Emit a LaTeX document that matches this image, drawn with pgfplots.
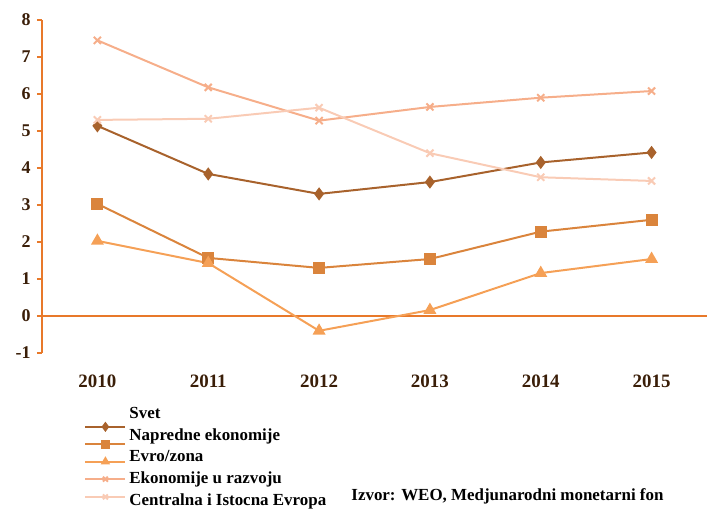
\documentclass[border=0pt]{standalone}
\usepackage{pgfplots}
\pgfplotsset{compat=1.18}
\usepackage{fontspec}
\setmainfont{Liberation Serif}
\definecolor{axc}{HTML}{E8792A}
\definecolor{tlc}{HTML}{3A1E08}
\definecolor{c1}{HTML}{A8622C}
\definecolor{c2}{HTML}{DA843C}
\definecolor{c3}{HTML}{F5A056}
\definecolor{c4}{HTML}{F6AE8A}
\definecolor{c5}{HTML}{F9CBB5}
\pgfplotsset{myimg/.style={legend image code/.code={\path[draw=none, fill=none] (0bp,0bp) rectangle (42bp,1bp);
    \draw[overlay, ##1, mark size=3.5bp, mark repeat=2, mark phase=2] plot coordinates {(0bp,#1)(20bp,#1)(40bp,#1)};}}}
\begin{document}
\begin{tikzpicture}
\useasboundingbox (-42bp,-159bp) rectangle (677bp,353bp);
\begin{axis}[
  at={(0,0)}, anchor=south west,
  scale only axis, width=665bp, height=333bp,
  xmin=-0.5, xmax=5.5, ymin=-1, ymax=8,
  axis y line=left, axis x line=middle,
  axis line style={-, draw=axc, line width=1.4bp},
  /pgf/number format/assume math mode=true,
  xtick={0,1,2,3,4,5},
  xticklabels={2010,2011,2012,2013,2014,2015},
  major x tick style={draw=none},
  xticklabel style={yshift=-50bp, font=\fontsize{19}{21}\selectfont\bfseries, text=tlc},
  extra x ticks={-0.5,0.5,1.5,2.5,3.5,4.5,5.5},
  extra x tick labels={},
  extra x tick style={tick align=outside, major tick length=5bp, tick style={draw=axc, line width=1.2bp}},
  ytick={-1,0,...,8},
  yticklabel style={font=\fontsize{18}{20}\selectfont\bfseries, text=tlc, xshift=-3bp},
  tick align=outside, major tick length=5bp,
  y tick style={draw=axc, line width=1.2bp},
  clip=false,
  legend style={at={(axis description cs:0.065,-0.157)}, anchor=north west, draw=none, fill=none,
    font=\fontsize{17}{19}\selectfont\bfseries, row sep=4.5bp, inner sep=0pt},
  legend cell align=left,
]
\addplot[forget plot, c1, line width=2bp, mark=diamond*, mark size=5bp, mark options={fill=c1}]
  coordinates {(0,5.14)(1,3.84)(2,3.30)(3,3.62)(4,4.15)(5,4.42)};
\addplot[forget plot, c2, line width=2bp, mark=square*, mark size=5bp, mark options={fill=c2}]
  coordinates {(0,3.03)(1,1.57)(2,1.30)(3,1.54)(4,2.28)(5,2.60)};
\addplot[forget plot, c3, line width=2bp, mark=triangle*, mark size=5.5bp, mark options={fill=c3}]
  coordinates {(0,2.03)(1,1.43)(2,-0.40)(3,0.16)(4,1.16)(5,1.54)};
\addplot[forget plot, c4, line width=2bp, mark=x, mark size=5bp]
  coordinates {(0,7.45)(1,6.18)(2,5.28)(3,5.65)(4,5.90)(5,6.08)};
\addplot[forget plot, c5, line width=2bp, mark=x, mark size=5bp]
  coordinates {(0,5.30)(1,5.33)(2,5.63)(3,4.40)(4,3.75)(5,3.65)};
\addlegendimage{c1, line width=2bp, mark=diamond*, mark options={fill=c1}, myimg=-13bp}
\addlegendentry{Svet}
\addlegendimage{c2, line width=2bp, mark=square*, mark options={fill=c2}, myimg=-9bp}
\addlegendentry{Napredne ekonomije}
\addlegendimage{c3, line width=2bp, mark=triangle*, mark options={fill=c3}, myimg=-5bp}
\addlegendentry{Evro/zona}
\addlegendimage{c4, line width=2bp, mark=x, myimg=-1bp}
\addlegendentry{Ekonomije u razvoju}
\addlegendimage{c5, line width=2bp, mark=x, myimg=3bp}
\addlegendentry{Centralna i Istocna Evropa}
\node[anchor=south west, font=\fontsize{17}{19}\selectfont\bfseries, inner sep=0pt] at (axis description cs:0.465,-0.455) {Izvor: WEO, Medjunarodni monetarni fon};
\end{axis}
\end{tikzpicture}
\end{document}
